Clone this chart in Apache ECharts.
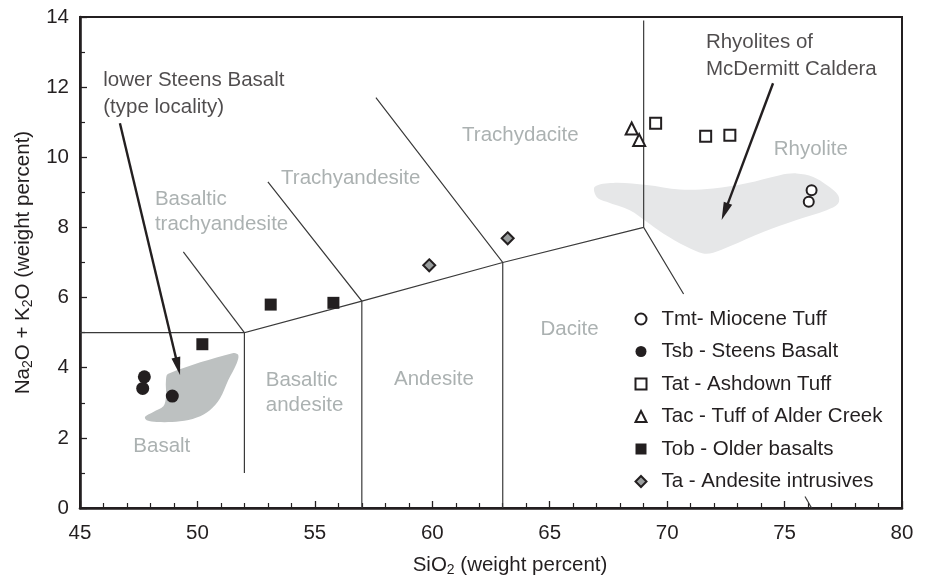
<!DOCTYPE html>
<html><head><meta charset="utf-8">
<script src="https://cdn.jsdelivr.net/npm/echarts@6/dist/echarts.min.js"></script>
<style>html,body{margin:0;padding:0;background:#fff}#c{width:928px;height:579px}</style>
</head><body><div id="c"></div>
<script>
// Axis ranges / ticks
const xMin = 45, xMax = 80, xStep = 5;
const yMin = 0, yMax = 14, yStep = 2;

// Sample data (SiO2, Na2O+K2O)
const tmt = [[76.15, 9.06], [76.03, 8.73]];
const tsb = [[47.74, 3.74], [47.67, 3.41], [48.93, 3.19]];
const tat = [[69.51, 10.97], [71.64, 10.60], [72.67, 10.63]];
const tac = [[68.49, 10.82], [68.81, 10.49]];
const tob = [[50.21, 4.67], [53.12, 5.80], [55.79, 5.85]];
const ta  = [[59.87, 6.92], [63.21, 7.69]];

const seriesNames = ['Tmt- Miocene Tuff', 'Tsb - Steens Basalt', 'Tat - Ashdown Tuff',
  'Tac - Tuff of Alder Creek', 'Tob - Older basalts', 'Ta - Andesite intrusives'];

// TAS field boundaries
const boundaries = [
  [[45, 5], [52, 5]],
  [[52, 1], [52, 5], [57, 5.9], [63, 7], [69, 8]],
  [[49.4, 7.3], [52, 5]],
  [[53, 9.3], [57, 5.9], [57, 0]],
  [[57.6, 11.7], [63, 7], [63, 0]],
  [[69, 13.9], [69, 8], [70.7, 6.1]],
  [[75.87, 0.33], [76.15, 0]]
];

// Shaded fields
const basaltField = [[48.76,3.83],[51.53,4.42],[51.74,4.36],[51.67,4.12],[51.31,3.64],[50.96,3.12],
  [50.53,2.79],[49.97,2.58],[49.26,2.47],[48.27,2.45],[47.84,2.50],[47.77,2.60],[48.12,2.74],
  [48.55,2.90],[48.66,3.17],[48.66,3.64]];
const rhyoliteField = [[66.92,9.16],[67.70,9.27],[69.13,9.21],[70.54,9.08],[71.96,9.11],[73.38,9.26],
  [74.80,9.49],[75.51,9.54],[76.22,9.44],[76.79,9.21],[77.28,8.92],[77.28,8.68],[76.79,8.49],
  [75.51,8.21],[74.09,7.87],[72.67,7.46],[71.96,7.28],[71.53,7.26],[70.83,7.45],[69.83,7.83],
  [69.13,8.16],[68.41,8.49],[67.42,8.73],[67.00,8.87]];

// Rock-name labels [x, y, text]
const rockLabels = [
  [48.19, 8.45, 'Basaltic\ntrachyandesite'],
  [53.56, 9.40, 'Trachyandesite'],
  [61.27, 10.63, 'Trachydacite'],
  [74.54, 10.23, 'Rhyolite'],
  [47.27, 1.77, 'Basalt'],
  [52.91, 3.27, 'Basaltic\nandesite'],
  [58.37, 3.67, 'Andesite'],
  [64.61, 5.10, 'Dacite']
];
// Annotations [x, y, text]
const notes = [
  [45.99, 11.82, 'lower Steens Basalt\n(type locality)'],
  [71.65, 12.88, 'Rhyolites of\nMcDermitt Caldera']
];
// Arrows [x0, y0, x1, y1]
const arrows = [
  [46.70, 10.97, 49.26, 3.79],
  [74.51, 12.11, 72.32, 8.21]
];

const INK = '#231f20';
const FONT = 'Liberation Sans, Arial, Helvetica, sans-serif';
const FS = 20.5;

function polySeries(points, color) {
  return {
    type: 'custom', silent: true, z: 1,
    data: [0],
    renderItem: function (params, api) {
      return {
        type: 'polygon',
        shape: { points: points.map(p => api.coord(p)), smooth: 0.35 },
        style: { fill: color, stroke: null }
      };
    }
  };
}

function scatterSeries(name, data, symbol, size, fill, stroke, bw) {
  return {
    name: name, type: 'scatter', data: data, symbol: symbol, symbolSize: size, z: 5,
    symbolKeepAspect: true,
    itemStyle: { color: fill, borderColor: stroke, borderWidth: bw, opacity: 1 }
  };
}

function labelSeries(data, color, lh) {
  return {
    type: 'scatter', silent: true, symbolSize: 0, z: 6,
    data: data.map(d => ({ value: [d[0], d[1]], name: d[2] })),
    label: { show: true, position: 'right', distance: 0, formatter: '{b}',
      color: color, fontSize: FS, fontFamily: FONT, lineHeight: lh, align: 'left' }
  };
}

const chart = echarts.init(document.getElementById('c'), null, { renderer: 'canvas' });
const option = {
  animation: false,
  backgroundColor: '#fff',
  textStyle: { fontFamily: FONT },
  grid: { left: 80, right: 26, top: 17, bottom: 71, show: true, borderColor: INK, borderWidth: 2,
    containLabel: false, outerBoundsMode: 'none' },
  legend: {
    orient: 'vertical', left: 629.5, top: 303.5, itemWidth: 11, itemHeight: 11, itemGap: 11.5,
    selectedMode: false, data: seriesNames,
    textStyle: { color: INK, fontSize: FS, fontFamily: FONT, padding: [0, 0, 0, 10] }
  },
  xAxis: {
    type: 'value', min: xMin, max: xMax, interval: xStep,
    name: '{n|SiO}{s|2}{n| (weight percent)}', nameLocation: 'middle', nameGap: 45,
    nameTextStyle: { padding: [0, 0, 0, 38], rich: {
      n: { fontSize: FS, lineHeight: 24, color: INK, fontFamily: FONT },
      s: { fontSize: 14, lineHeight: 12, verticalAlign: 'bottom', color: INK, fontFamily: FONT } } },
    axisLine: { show: true, onZero: false, lineStyle: { color: INK, width: 2.6 } },
    axisTick: { show: true, inside: true, length: 7, lineStyle: { color: INK, width: 1.3 } },
    minorTick: { show: true, splitNumber: 5, length: 5, lineStyle: { color: INK, width: 1.2 } },
    axisLabel: { color: INK, fontSize: FS, margin: 15, fontFamily: FONT },
    splitLine: { show: false }, minorSplitLine: { show: false }
  },
  yAxis: {
    type: 'value', min: yMin, max: yMax, interval: yStep,
    name: '{n|Na}{s|2}{n|O + K}{s|2}{n|O (weight percent)}', nameLocation: 'middle', nameGap: 42,
    nameTextStyle: { rich: {
      n: { fontSize: FS, lineHeight: 24, color: INK, fontFamily: FONT },
      s: { fontSize: 14, lineHeight: 12, verticalAlign: 'bottom', color: INK, fontFamily: FONT } } },
    axisLine: { show: true, onZero: false, lineStyle: { color: INK, width: 2.6 } },
    axisTick: { show: true, inside: true, length: 7, lineStyle: { color: INK, width: 1.3 } },
    minorTick: { show: true, splitNumber: 2, length: 5, lineStyle: { color: INK, width: 1.2 } },
    axisLabel: { color: INK, fontSize: FS, margin: 11, fontFamily: FONT },
    splitLine: { show: false }, minorSplitLine: { show: false }
  },
  series: [
    polySeries(basaltField, '#bdc1c1'),
    polySeries(rhyoliteField, '#e6e7e8'),
    {
      type: 'lines', coordinateSystem: 'cartesian2d', polyline: true, silent: true, z: 2,
      data: boundaries.map(b => ({ coords: b })),
      lineStyle: { color: '#3a3a3a', width: 1.2, opacity: 1 }
    },
    {
      type: 'custom', silent: true, z: 4, data: arrows,
      renderItem: function (params, api) {
        const p0 = api.coord([api.value(0), api.value(1)]);
        const p1 = api.coord([api.value(2), api.value(3)]);
        const dx = p1[0] - p0[0], dy = p1[1] - p0[1];
        const L = Math.sqrt(dx * dx + dy * dy), ux = dx / L, uy = dy / L;
        const hl = 18, hw = 4.5;
        const bx = p1[0] - ux * hl, by = p1[1] - uy * hl;
        return { type: 'group', children: [
          { type: 'line', shape: { x1: p0[0], y1: p0[1], x2: bx + ux * 2, y2: by + uy * 2 },
            style: { stroke: INK, lineWidth: 2.4 } },
          { type: 'polygon', shape: { points: [[p1[0], p1[1]], [bx - uy * hw, by + ux * hw], [bx + uy * hw, by - ux * hw]] },
            style: { fill: INK } }
        ] };
      }
    },
    scatterSeries(seriesNames[0], tmt, 'circle', 10, '#fff', INK, 2),
    scatterSeries(seriesNames[1], tsb, 'circle', 13, INK, INK, 0),
    scatterSeries(seriesNames[2], tat, 'rect', 11, '#fff', INK, 2),
    scatterSeries(seriesNames[3], tac, 'triangle', 12, '#fff', INK, 2),
    scatterSeries(seriesNames[4], tob, 'rect', 12, INK, INK, 0),
    scatterSeries(seriesNames[5], ta, 'diamond', 12, '#9a9e9e', INK, 2),
    labelSeries(rockLabels, '#969d9d', 25),
    labelSeries(notes, INK, 27)
  ]
};
chart.setOption(option);
</script></body></html>
